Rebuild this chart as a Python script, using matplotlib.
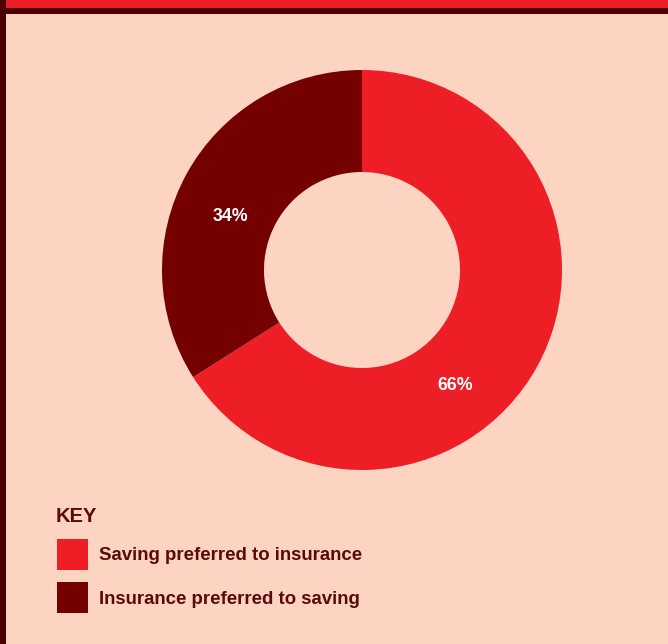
import matplotlib
matplotlib.use("Agg")
import matplotlib.pyplot as plt
from matplotlib.patches import Rectangle
import numpy as np

# Survey split
labels = ["Saving preferred to insurance", "Insurance preferred to saving"]
shares = [66, 34]
colors = ["#EE1E26", "#740000"]
# label placement inside the ring (angle in degrees, radius as fraction)
label_angles = [-51, 158]
label_radii = [0.74, 0.71]

BG = "#FDD4C2"
DARK = "#4A0003"
TEXT = "#5A0A0C"
W, H = 668, 644

fig = plt.figure(figsize=(W / 100, H / 100), dpi=100, facecolor=BG)

# Frame axes in pixel coordinates
frame = fig.add_axes([0, 0, 1, 1])
frame.set_xlim(0, W)
frame.set_ylim(H, 0)
frame.axis("off")
frame.add_patch(Rectangle((0, 0), 6, H, color=DARK, lw=0))
frame.add_patch(Rectangle((6, 0), W - 6, 8, color="#EE1E26", lw=0))
frame.add_patch(Rectangle((6, 8), W - 6, 6, color=DARK, lw=0))

# Donut
cx, cy, r_out, r_in = 362, 270, 200, 98
pie_ax = fig.add_axes([(cx - r_out) / W, (H - cy - r_out) / H, 2 * r_out / W, 2 * r_out / H])
pie_ax.pie(shares, colors=colors, startangle=90, counterclock=False,
           wedgeprops=dict(width=(r_out - r_in) / r_out, linewidth=0))
pie_ax.set_xlim(-1, 1)
pie_ax.set_ylim(-1, 1)
pie_ax.set_aspect("equal")

for val, ang, rad in zip(shares, label_angles, label_radii):
    a = np.deg2rad(ang)
    pie_ax.text(rad * np.cos(a), rad * np.sin(a), f"{val}%", color="white",
                fontsize=12.8, fontweight="bold", family="Liberation Sans",
                ha="center", va="center")

# Key
frame.text(56, 516, "KEY", color=TEXT, fontsize=14.5, fontweight="bold",
           family="Liberation Sans", ha="left", va="center")
key_y = [554, 597]
for y, lab, col in zip(key_y, labels, colors):
    frame.add_patch(Rectangle((57, y - 15.5), 31, 31, color=col, lw=0))
    frame.text(99, y + 2, lab, color=TEXT, fontsize=13.4, fontweight="bold",
               family="Liberation Sans", ha="left", va="center")

fig.savefig("out.png", dpi=100, facecolor=BG)
